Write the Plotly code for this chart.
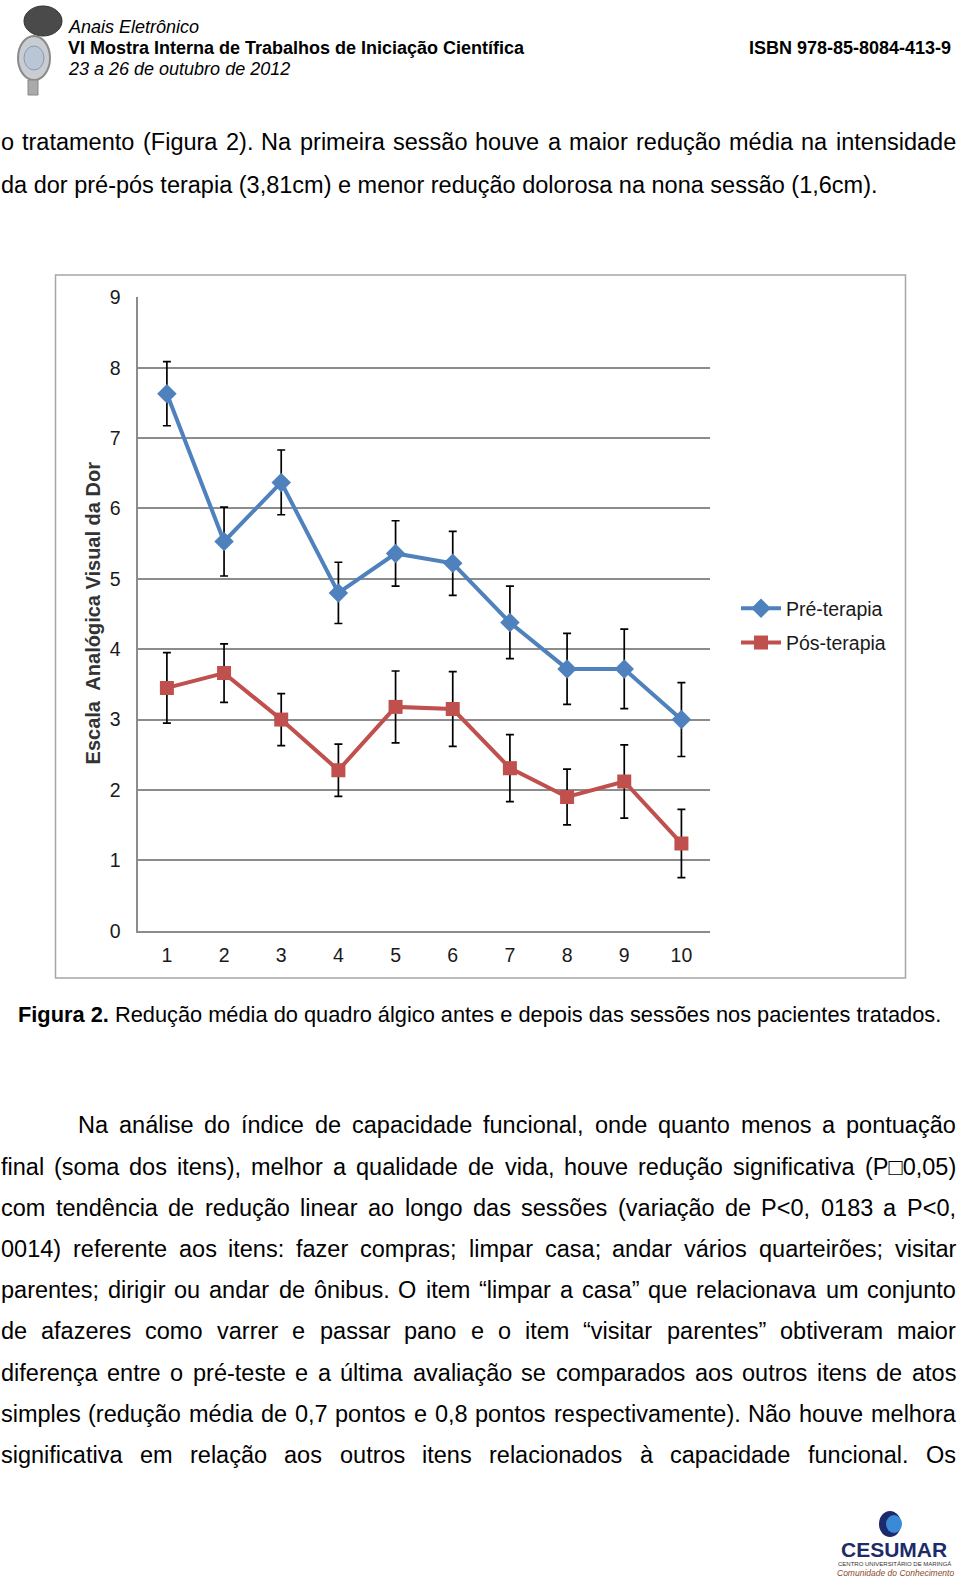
import plotly.graph_objects as go

W, H = 960, 1581
FONT = "Liberation Sans, Arial, sans-serif"

sessions = [1, 2, 3, 4, 5, 6, 7, 8, 9, 10]
pre_mean = [7.63, 5.53, 6.37, 4.80, 5.36, 5.22, 4.38, 3.72, 3.72, 3.00]
pre_err = [0.455, 0.49, 0.46, 0.435, 0.465, 0.455, 0.515, 0.505, 0.565, 0.525]
post_mean = [3.45, 3.66, 3.00, 2.28, 3.18, 3.15, 2.31, 1.90, 2.12, 1.24]
post_err = [0.50, 0.415, 0.37, 0.37, 0.51, 0.53, 0.475, 0.395, 0.52, 0.485]
y_ticks = [0, 1, 2, 3, 4, 5, 6, 7, 8, 9]
series_names = ["Pré-terapia", "Pós-terapia"]

BLUE = "#4F81BD"
RED = "#C0504D"


def px(x):
    return x / W


def py(y):
    return 1 - y / H


# Arial / Liberation Sans advance widths (per 1000 em), used to justify text lines
AW = {}


def _set(chars, w):
    for c in chars:
        AW[c] = w


_set(" !,./:;If t[]", 278)
_set("íìîï", 278)
_set("ijl", 222)
_set("()-r\u201c\u201d\u2018\u2019", 333)
_set("cksvxyzçJ", 500)
_set("<>=+~", 584)
_set("\u25a1", 604)
_set("FTZ", 611)
_set("ABEKPSVXY&ÁÉ", 667)
_set("CDHNRUw", 722)
_set("GOQ", 778)
_set("mM", 833)
_set("%", 889)
_set("W", 944)


def tw(s, size):
    return sum(AW.get(c, 556) for c in s) * size / 1000.0


def esc(s):
    return s.replace("&", "&amp;").replace("<", "&lt;").replace(">", "&gt;")


fig = go.Figure()
fig.add_trace(go.Scatter(
    x=sessions, y=pre_mean, name=series_names[0], mode="lines+markers",
    line=dict(color=BLUE, width=4),
    marker=dict(symbol="diamond", size=15, color=BLUE),
    error_y=dict(type="data", array=pre_err, visible=True, color="black", thickness=1.7, width=4),
    legendgroup="a",
))
fig.add_trace(go.Scatter(
    x=sessions, y=post_mean, name=series_names[1], mode="lines+markers",
    line=dict(color=RED, width=4),
    marker=dict(symbol="square", size=14, color=RED),
    error_y=dict(type="data", array=post_err, visible=True, color="black", thickness=1.7, width=4),
    legendgroup="b",
))

fig.update_layout(
    width=W, height=H,
    margin=dict(l=0, r=0, t=0, b=0, pad=0, autoexpand=False),
    paper_bgcolor="white", plot_bgcolor="white",
    font=dict(family=FONT, color="black"),
    showlegend=True,
    legend=dict(x=px(736), y=py(625.5), xanchor="left", yanchor="middle",
                font=dict(size=19.5, color="#1a1a1a", family=FONT),
                tracegroupgap=6, bgcolor="rgba(0,0,0,0)", itemwidth=40),
    xaxis=dict(domain=[px(138.3), px(710)], range=[0.5, 10.5], automargin=False,
               tickvals=sessions, ticktext=[str(s) for s in sessions],
               showgrid=False, zeroline=False, showline=True, linecolor="#8C8C8C", linewidth=1.6,
               ticks="", tickfont=dict(size=19.5, color="#1a1a1a", family=FONT),
               ticklabelstandoff=6, fixedrange=True),
    yaxis=dict(domain=[py(930.7), py(297.3)], range=[0, 9], tickvals=y_ticks, automargin=False,
               showgrid=True, gridcolor="#8C8C8C", gridwidth=1.6, zeroline=False,
               showline=True, linecolor="#8C8C8C", linewidth=1.6,
               ticks="", tickfont=dict(size=19.5, color="#1a1a1a", family=FONT),
               ticklabelstandoff=12, fixedrange=True),
)

shapes = []
# chart outer border
shapes.append(dict(type="rect", xref="paper", yref="paper",
                   x0=px(55.5), x1=px(905.5), y0=py(978), y1=py(275),
                   line=dict(color="#A6A6A6", width=1.5), fillcolor="rgba(0,0,0,0)"))
# top-left compass logo (approximation)
shapes.append(dict(type="circle", xref="paper", yref="paper",
                   x0=px(24), x1=px(62), y0=py(36), y1=py(6),
                   line=dict(color="#2e2e2e", width=1), fillcolor="#4a4a4a"))
shapes.append(dict(type="circle", xref="paper", yref="paper",
                   x0=px(18), x1=px(50), y0=py(80), y1=py(36),
                   line=dict(color="#8a8a8a", width=2), fillcolor="#c9ccd0"))
shapes.append(dict(type="circle", xref="paper", yref="paper",
                   x0=px(24), x1=px(44), y0=py(70), y1=py(46),
                   line=dict(color="#8a9ab0", width=1), fillcolor="#b9c6d6"))
shapes.append(dict(type="rect", xref="paper", yref="paper",
                   x0=px(28), x1=px(38), y0=py(95), y1=py(80),
                   line=dict(color="#888", width=1), fillcolor="#aaa"))
# CESUMAR logo icon
shapes.append(dict(type="circle", xref="paper", yref="paper",
                   x0=px(879), x1=px(901), y0=py(1537), y1=py(1511),
                   line=dict(color="#1d2b6b", width=0), fillcolor="#1d2b6b"))
shapes.append(dict(type="circle", xref="paper", yref="paper",
                   x0=px(886), x1=px(902), y0=py(1533), y1=py(1515),
                   line=dict(color="#2f7fd0", width=0), fillcolor="#3a8ad8"))
fig.update_layout(shapes=shapes)

ann = []


def text(x, y, s, size=23.5, anchor="left", color="black", **kw):
    ann.append(dict(xref="paper", yref="paper", x=px(x), y=py(y), text=s,
                    showarrow=False, xanchor=anchor, yanchor="middle",
                    borderpad=0, borderwidth=0,
                    font=dict(family=FONT, size=size, color=color), **kw))


def justified(x0, x1, y, line, size=23.5):
    words = line.split(" ")
    widths = [tw(w, size) for w in words]
    gap = (x1 - x0 - sum(widths)) / (len(words) - 1)
    x = x0
    for w, wd in zip(words, widths):
        text(x, y, esc(w), size=size)
        x += wd + gap


# header
text(67.6, 27.2, "<i>Anais Eletrônico</i>", size=18)
text(67.6, 48.4, "<b>VI Mostra Interna de Trabalhos de Iniciação Científica</b>", size=18)
text(67.6, 68.6, "<i>23 a 26 de outubro de 2012</i>", size=18)
text(951, 48.4, "<b>ISBN 978-85-8084-413-9</b>", size=18, anchor="right")

# top paragraph
TEXT_L, TEXT_R = 1.0, 956.0
justified(TEXT_L, TEXT_R, 142.2,
          "o tratamento (Figura 2). Na primeira sessão houve a maior redução média na intensidade")
text(TEXT_L, 184.5, esc("da dor pré-pós terapia (3,81cm) e menor redução dolorosa na nona sessão (1,6cm)."))

# y axis title
ann.append(dict(xref="paper", yref="paper", x=px(92.8), y=py(612.6),
                text="<b>Escala&nbsp; Analógica Visual da Dor</b>", textangle=-90,
                showarrow=False, xanchor="center", yanchor="middle",
                font=dict(family=FONT, size=20, color="#333333")))

# caption
text(18.3, 1014.5, "<b>Figura 2.</b> Redução média do quadro álgico antes e depois das sessões nos pacientes tratados.", size=21.8)

para = [
    (77.6, "Na análise do índice de capacidade funcional, onde quanto menos a pontuação"),
    (TEXT_L, "final (soma dos itens), melhor a qualidade de vida, houve redução significativa (P\u25a10,05)"),
    (TEXT_L, "com tendência de redução linear ao longo das sessões (variação de P<0, 0183 a P<0,"),
    (TEXT_L, "0014) referente aos itens: fazer compras; limpar casa; andar vários quarteirões; visitar"),
    (TEXT_L, "parentes; dirigir ou andar de ônibus. O item \u201climpar a casa\u201d que relacionava um conjunto"),
    (TEXT_L, "de afazeres como varrer e passar pano e o item \u201cvisitar parentes\u201d obtiveram maior"),
    (TEXT_L, "diferença entre o pré-teste e a última avaliação se comparados aos outros itens de atos"),
    (TEXT_L, "simples (redução média de 0,7 pontos e 0,8 pontos respectivamente). Não houve melhora"),
    (TEXT_L, "significativa em relação aos outros itens relacionados à capacidade funcional. Os"),
]
for i, (x0, line) in enumerate(para):
    justified(x0, TEXT_R, 1125.4 + i * 41.2, line)

# CESUMAR logo text
text(893.5, 1549.5, "<b>CESUMAR</b>", size=21, anchor="center", color="#1d2b6b")
text(894, 1563.5, "CENTRO UNIVERSITÁRIO DE MARINGÁ", size=6, anchor="center", color="#333")
text(895, 1572.5, "<i>Comunidade do Conhecimento</i>", size=8.5, anchor="center", color="#8a4a2a")

fig.update_layout(annotations=ann)

fig.write_html("out.html",
               config={"displayModeBar": False},
               post_script="document.body.style.margin='0';document.body.style.overflow='hidden';")
